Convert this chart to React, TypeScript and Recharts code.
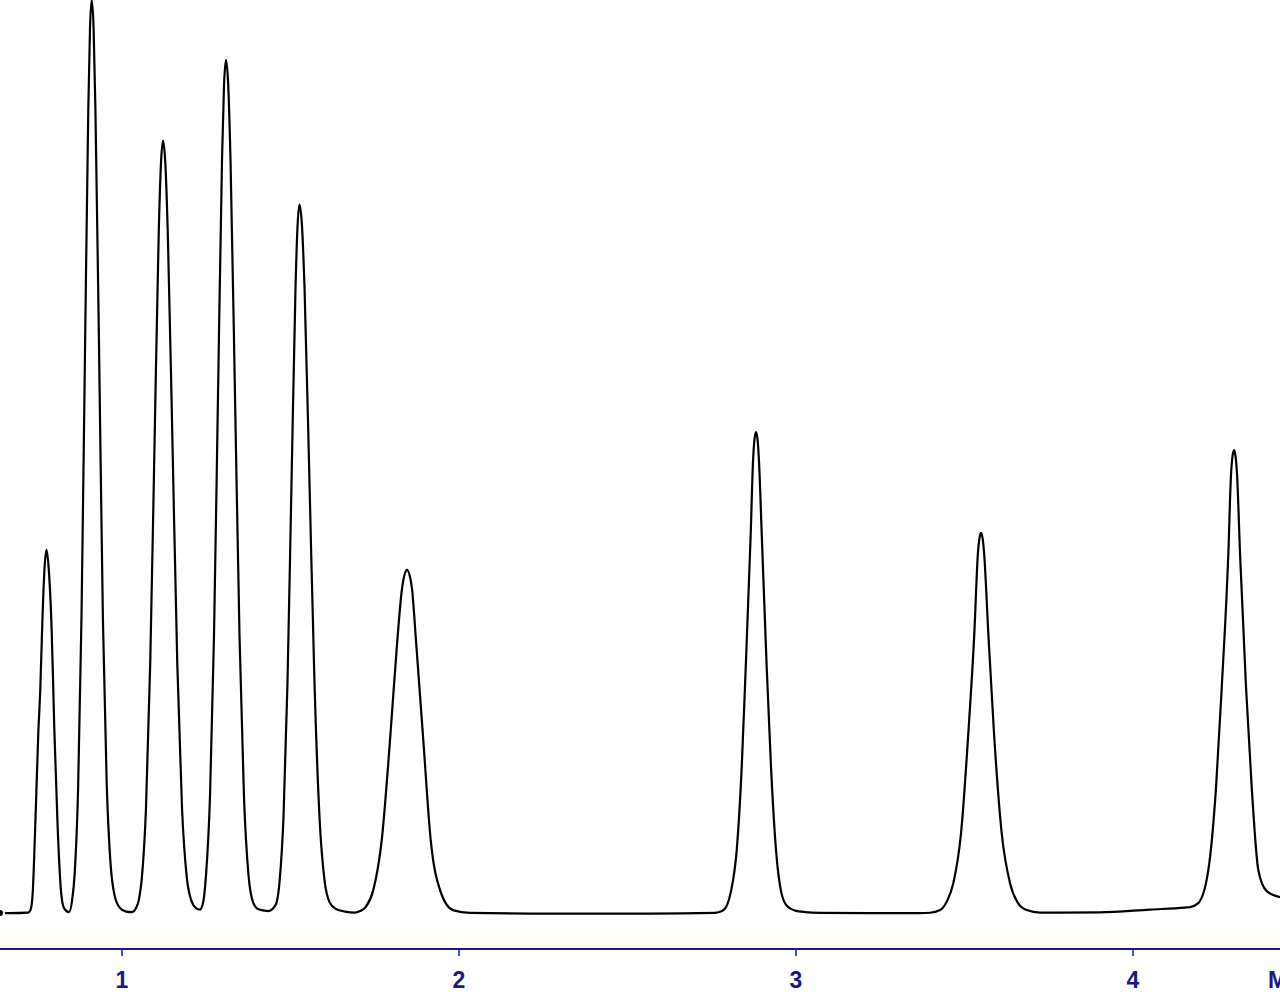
import React from "react";
import { LineChart, Line, XAxis, YAxis, ReferenceArea, Label } from "recharts";

// retention time (min), detector signal
const baselineStart = [[0.638, 0], [0.6677, 0]];
const peak1 = [[0.7211, 0.05], [0.7285, 0.3], [0.735, 2.0], [0.7419, 8.0], [0.7516, 18.0], [0.7576, 22.5], [0.7635, 29.0], [0.77, 34.5], [0.776, 36.4], [0.7819, 34.8], [0.7914, 28.2], [0.7953, 23.5], [0.7991, 18.5], [0.8092, 8.5], [0.819, 2.2], [0.8279, 0.5], [0.8427, 0.1]];
const peak2 = [[0.8516, 1.2], [0.8597, 4.0], [0.8697, 12.4], [0.8798, 29.6], [0.8899, 55.4], [0.9, 80.6], [0.9051, 88.7], [0.9101, 91.5], [0.9157, 88.7], [0.9211, 80.6], [0.9324, 55.4], [0.9433, 29.6], [0.9546, 13.0], [0.9659, 5.0], [0.9778, 1.8], [0.9941, 0.5], [1.0119, 0.15], [1.0297, 0.1]];
const peak3 = [[1.0416, 0.5], [1.0505, 1.4], [1.0586, 3.4], [1.0712, 10.5], [1.0838, 25.1], [1.0965, 46.9], [1.1091, 68.3], [1.1155, 75.0], [1.1217, 77.4], [1.1288, 75.0], [1.1358, 68.3], [1.1499, 46.9], [1.164, 25.1], [1.1781, 10.5], [1.1922, 3.6], [1.2063, 1.2], [1.2196, 0.5], [1.2315, 0.35]];
const peak4 = [[1.2404, 1.0], [1.2493, 3.8], [1.2611, 11.6], [1.273, 27.8], [1.2849, 51.9], [1.2968, 75.5], [1.3027, 82.9], [1.3086, 85.5], [1.3153, 82.9], [1.322, 75.5], [1.3353, 51.9], [1.3487, 27.8], [1.362, 11.6], [1.3754, 3.8], [1.3887, 1.1], [1.4036, 0.4], [1.4214, 0.25]];
const peak5 = [[1.4333, 0.2], [1.4555, 0.8], [1.4674, 3.1], [1.4792, 9.6], [1.4911, 23.1], [1.503, 43.1], [1.5149, 62.7], [1.5208, 68.8], [1.5267, 71.0], [1.5342, 68.8], [1.5416, 62.7], [1.5564, 43.1], [1.5712, 23.1], [1.5861, 9.6], [1.6009, 3.3], [1.6158, 1.1], [1.635, 0.4], [1.6617, 0.15], [1.6914, 0.05]];
const peak6 = [[1.7063, 0.2], [1.7241, 0.65], [1.7457, 2.3], [1.7707, 7.3], [1.7953, 17.3], [1.8169, 27.3], [1.8309, 32.5], [1.8383, 33.9], [1.8457, 34.4], [1.8531, 33.9], [1.8606, 32.5], [1.8724, 27.3], [1.8941, 17.3], [1.9161, 7.3], [1.9437, 2.3], [1.9822, 0.3], [2.0327, 0.03]];
const midBaseline = [[2.2701, -0.05], [2.5668, -0.05]];
const peak7 = [[2.7597, 0.03], [2.7805, 0.2], [2.7953, 0.8], [2.8072, 2.2], [2.8241, 6.3], [2.8389, 14.6], [2.8508, 24.6], [2.8656, 38.0], [2.8724, 45.2], [2.8769, 47.5], [2.8813, 48.2], [2.8858, 47.5], [2.8903, 45.2], [2.8983, 38.0], [2.9131, 24.6], [2.9259, 14.6], [2.9407, 6.3], [2.9555, 2.2], [2.9733, 0.7], [2.9971, 0.25], [3.0268, 0.1], [3.0713, 0.03]];
const lateBaseline = [[3.2196, 0], [3.368, 0]];
const peak8 = [[3.3977, 0.03], [3.4274, 0.3], [3.4481, 1.2], [3.4668, 3.0], [3.4897, 8.0], [3.5113, 18.0], [3.5291, 28.0], [3.5401, 36.2], [3.5446, 37.6], [3.549, 38.1], [3.5535, 37.6], [3.5579, 36.2], [3.5707, 28.0], [3.5876, 18.0], [3.6104, 8.0], [3.6351, 3.0], [3.6588, 1.0], [3.6846, 0.3], [3.7241, 0.05]];
const drift = [[3.7834, 0.05], [3.9021, 0.07], [4.0505, 0.35], [4.1544, 0.55]];
const peak9 = [[4.1692, 0.6], [4.1938, 1.0], [4.2235, 4.3], [4.2464, 12.6], [4.2633, 22.6], [4.2829, 36.0], [4.2909, 44.0], [4.2953, 45.8], [4.2998, 46.4], [4.3042, 45.8], [4.3087, 44.0], [4.3176, 36.0], [4.3354, 22.6], [4.3523, 12.6], [4.3719, 4.3], [4.3968, 2.2], [4.4362, 1.6]];

const xTicks = [1, 2, 3, 4];
const xDomain = [0.638, 4.4362];
const yDomain = [-3.6, 91.5];
const xUnit = "Min";

const data = [
  ...baselineStart, ...peak1, ...peak2, ...peak3, ...peak4, ...peak5, ...peak6,
  ...midBaseline, ...peak7, ...lateBaseline, ...peak8, ...drift, ...peak9,
].map(([t, v]) => ({ t, v }));

const NAVY = "#18188a";
const FONT = "'Liberation Sans', Arial, sans-serif";

export default function App() {
  return (
    <div style={{ position: "absolute", left: 0, top: 0, width: 1280, height: 1000, overflow: "hidden", background: "#fff" }}>
      <LineChart width={1280} height={1000} data={data} margin={{ top: 0, right: 0, bottom: 0, left: 0 }}>
        <ReferenceArea x1={xDomain[0]} x2={xDomain[1]} y1={-3.5} y2={-1.6} fill="#fffcf0" fillOpacity={0.7} stroke="none" />
        <XAxis
          dataKey="t"
          type="number"
          domain={xDomain}
          ticks={xTicks}
          height={51}
          tickSize={7}
          tickMargin={16}
          axisLine={{ stroke: NAVY, strokeWidth: 2 }}
          tickLine={{ stroke: NAVY, strokeWidth: 1.5 }}
          tick={{ fill: NAVY, fontSize: 23, fontWeight: "bold", fontFamily: FONT }}
        >
          <Label
            content={(props: any) => {
              const vb = props.viewBox || {};
              return (
                <text x={vb.x + vb.width - 12} y={vb.y + 39} fill={NAVY} fontSize={23} fontWeight="bold" fontFamily={FONT}>
                  {xUnit}
                </text>
              );
            }}
          />
        </XAxis>
        <YAxis hide type="number" domain={yDomain} />
        <Line type="monotone" dataKey="v" stroke="#000" strokeWidth={2.2} dot={false} isAnimationActive={false} />
      </LineChart>
    </div>
  );
}
